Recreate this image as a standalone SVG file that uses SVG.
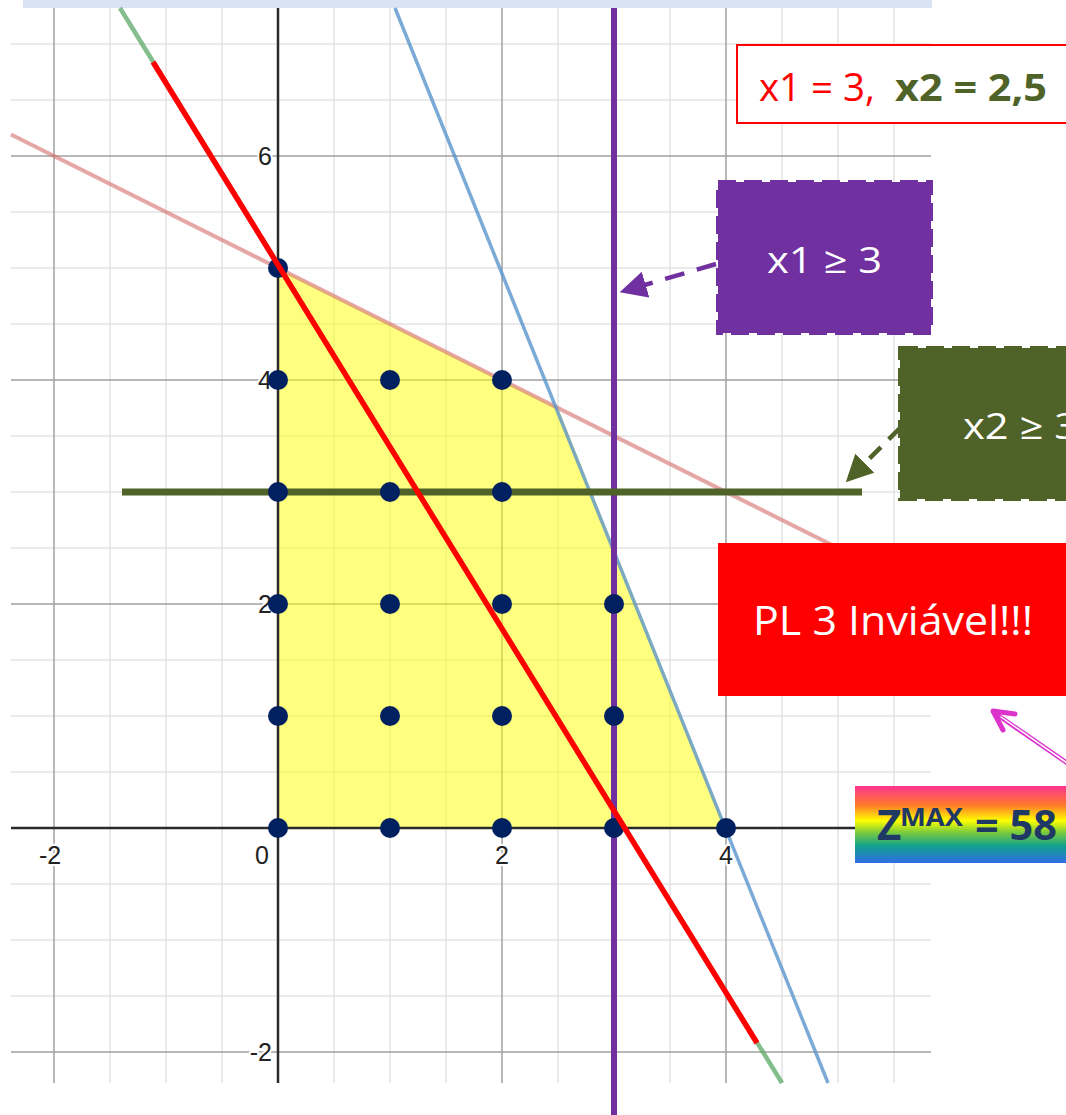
<svg xmlns="http://www.w3.org/2000/svg" width="1066" height="1115" viewBox="0 0 1066 1115">
<defs>
<style>
.minor{stroke:#e3e3e3;stroke-width:1.5}
.major{stroke:#a0a0a0;stroke-width:1.5}
.axis{stroke:#2a2a2a;stroke-width:2.5}
.tick{font-family:"Liberation Sans",Arial,sans-serif;font-size:25px;fill:#222;stroke:#fff;stroke-width:4;paint-order:stroke;stroke-linejoin:round}
.dot{fill:#002060}
.lbl{font-family:"Open Sans","Noto Sans",sans-serif;fill:#fff}
</style>
<linearGradient id="rainbow" x1="0" y1="0" x2="0" y2="1">
<stop offset="0" stop-color="#ff3390"/>
<stop offset="0.25" stop-color="#ff7a2a"/>
<stop offset="0.45" stop-color="#ffff00"/>
<stop offset="0.6" stop-color="#7ccc3c"/>
<stop offset="0.78" stop-color="#10a08e"/>
<stop offset="1" stop-color="#2f6ee6"/>
</linearGradient>
<marker id="arrP" markerWidth="6" markerHeight="6" refX="5" refY="3" orient="auto" markerUnits="strokeWidth">
<path d="M0,0 L6,3 L0,6 Z" fill="#7030a0"/>
</marker>
<marker id="arrG" markerWidth="6" markerHeight="6" refX="5" refY="3" orient="auto" markerUnits="strokeWidth">
<path d="M0,0 L6,3 L0,6 Z" fill="#4f6228"/>
</marker>
</defs>
<rect width="1066" height="1115" fill="#fff"/>
<rect x="23" y="0" width="909" height="8" fill="#dae3f3"/>
<g id="grid">
<g class="minor">
<line x1="110" y1="8" x2="110" y2="1083"/><line x1="166" y1="8" x2="166" y2="1083"/><line x1="222" y1="8" x2="222" y2="1083"/>
<line x1="334" y1="8" x2="334" y2="1083"/><line x1="390" y1="8" x2="390" y2="1083"/><line x1="446" y1="8" x2="446" y2="1083"/>
<line x1="558" y1="8" x2="558" y2="1083"/><line x1="614" y1="8" x2="614" y2="1083"/><line x1="670" y1="8" x2="670" y2="1083"/>
<line x1="782" y1="8" x2="782" y2="1083"/><line x1="838" y1="8" x2="838" y2="1083"/><line x1="894" y1="8" x2="894" y2="1083"/>
<line x1="11" y1="44" x2="931" y2="44"/><line x1="11" y1="100" x2="931" y2="100"/><line x1="11" y1="212" x2="931" y2="212"/>
<line x1="11" y1="268" x2="931" y2="268"/><line x1="11" y1="324" x2="931" y2="324"/><line x1="11" y1="436" x2="931" y2="436"/>
<line x1="11" y1="492" x2="931" y2="492"/><line x1="11" y1="548" x2="931" y2="548"/><line x1="11" y1="660" x2="931" y2="660"/>
<line x1="11" y1="716" x2="931" y2="716"/><line x1="11" y1="772" x2="931" y2="772"/><line x1="11" y1="884" x2="931" y2="884"/>
<line x1="11" y1="940" x2="931" y2="940"/><line x1="11" y1="996" x2="931" y2="996"/>
</g>
<g class="major">
<line x1="54" y1="8" x2="54" y2="1083"/><line x1="502" y1="8" x2="502" y2="1083"/><line x1="726" y1="8" x2="726" y2="1083"/>
<line x1="11" y1="156" x2="931" y2="156"/><line x1="11" y1="380" x2="931" y2="380"/><line x1="11" y1="604" x2="931" y2="604"/><line x1="11" y1="1052" x2="931" y2="1052"/>
</g>
</g>
<polygon id="feasible" points="278,828 278,268 558,408 726,828" fill="#ffff00" fill-opacity="0.5"/>
<g id="axes" class="axis">
<line x1="11" y1="828" x2="931" y2="828"/>
<line x1="278" y1="8" x2="278" y2="1083"/>
</g>
<g id="ticks">
<text class="tick" x="272" y="165" text-anchor="end">6</text>
<text class="tick" x="272" y="389" text-anchor="end">4</text>
<text class="tick" x="272" y="613" text-anchor="end">2</text>
<text class="tick" x="272" y="1061" text-anchor="end">-2</text>
<text class="tick" x="50" y="864" text-anchor="middle">-2</text>
<text class="tick" x="262" y="864" text-anchor="middle">0</text>
<text class="tick" x="502" y="864" text-anchor="middle">2</text>
<text class="tick" x="726" y="864" text-anchor="middle">4</text>
</g>
<g id="constraints">
<line x1="11" y1="134.5" x2="931" y2="594.5" stroke="#d46a6a" stroke-opacity="0.6" stroke-width="4"/>
<line x1="395" y1="8" x2="828" y2="1083" stroke="#5b95cc" stroke-opacity="0.8" stroke-width="3.5"/>
<line x1="120" y1="8" x2="782" y2="1083" stroke="#5aa866" stroke-opacity="0.75" stroke-width="4.5"/>
<line x1="614" y1="8" x2="614" y2="1115" stroke="#7030a0" stroke-width="6"/>
<line x1="122" y1="492" x2="862" y2="492" stroke="#4f6228" stroke-width="7"/>
</g>
<g id="points" class="dot">
<circle cx="278" cy="268" r="10"/>
<circle cx="278" cy="380" r="10"/><circle cx="390" cy="380" r="10"/><circle cx="502" cy="380" r="10"/>
<circle cx="278" cy="492" r="10"/><circle cx="390" cy="492" r="10"/><circle cx="502" cy="492" r="10"/>
<circle cx="278" cy="604" r="10"/><circle cx="390" cy="604" r="10"/><circle cx="502" cy="604" r="10"/><circle cx="614" cy="604" r="10"/>
<circle cx="278" cy="716" r="10"/><circle cx="390" cy="716" r="10"/><circle cx="502" cy="716" r="10"/><circle cx="614" cy="716" r="10"/>
<circle cx="278" cy="828" r="10"/><circle cx="390" cy="828" r="10"/><circle cx="502" cy="828" r="10"/><circle cx="614" cy="828" r="10"/><circle cx="726" cy="828" r="10"/>
</g>
<line id="objective" x1="153" y1="62" x2="757" y2="1043" stroke="#ff0000" stroke-width="5.5"/>
<g id="connectors">
<line x1="716" y1="264" x2="624" y2="291" stroke="#7030a0" stroke-width="4.5" stroke-dasharray="20,13" marker-end="url(#arrP)"/>
<line x1="900" y1="428" x2="849" y2="479" stroke="#4f6228" stroke-width="4.5" stroke-dasharray="16,11" marker-end="url(#arrG)"/>
<g id="pinkArrow" fill="none" stroke-linecap="round">
<line x1="1070" y1="765" x2="996" y2="714" stroke="#dd33cc" stroke-width="4.5"/>
<line x1="1070" y1="765" x2="1001" y2="717" stroke="#fff" stroke-width="1.5"/>
<polyline points="1015,714 993,711 1003,730" stroke="#dd33cc" stroke-width="5" stroke-linejoin="round"/>
</g>
</g>
<g id="solution">
<rect x="737" y="45" width="340" height="78" fill="#fff" stroke="#ff0000" stroke-width="2"/>
<text x="759" y="101" font-family="'Open Sans','Noto Sans',sans-serif" font-size="38"><tspan fill="#ff0000" textLength="116" lengthAdjust="spacingAndGlyphs">x1 = 3,</tspan><tspan x="895" fill="#4f6228" font-weight="bold" textLength="152" lengthAdjust="spacingAndGlyphs">x2 = 2,5</tspan></text>
</g>
<g id="boxX1">
<rect x="718" y="182" width="213" height="151" fill="#7030a0" stroke="#7030a0" stroke-width="4" stroke-dasharray="18,8"/>
<text class="lbl" x="767" y="273" font-size="36" textLength="115" lengthAdjust="spacingAndGlyphs">x1 ≥ 3</text>
</g>
<g id="boxX2">
<rect x="900" y="348" width="180" height="151" fill="#4f6228" stroke="#4f6228" stroke-width="4" stroke-dasharray="18,8"/>
<text class="lbl" x="963" y="439" font-size="36" textLength="115" lengthAdjust="spacingAndGlyphs">x2 ≥ 3</text>
</g>
<g id="boxPL3">
<rect x="718" y="543" width="360" height="153" fill="#ff0000"/>
<text class="lbl" x="753" y="635" font-size="40" textLength="280" lengthAdjust="spacingAndGlyphs">PL 3 Inviável!!!</text>
</g>
<g id="boxZ">
<rect x="855" y="786" width="220" height="77" fill="url(#rainbow)"/>
<text x="877" y="840" font-family="'Open Sans','Noto Sans',sans-serif" font-weight="bold" fill="#1f3864"><tspan font-size="42">Z</tspan><tspan font-size="25" y="826" x="900" textLength="63" lengthAdjust="spacingAndGlyphs">MAX</tspan><tspan font-size="42" x="975" y="840" textLength="82" lengthAdjust="spacingAndGlyphs">= 58</tspan></text>
</g>
</svg>
